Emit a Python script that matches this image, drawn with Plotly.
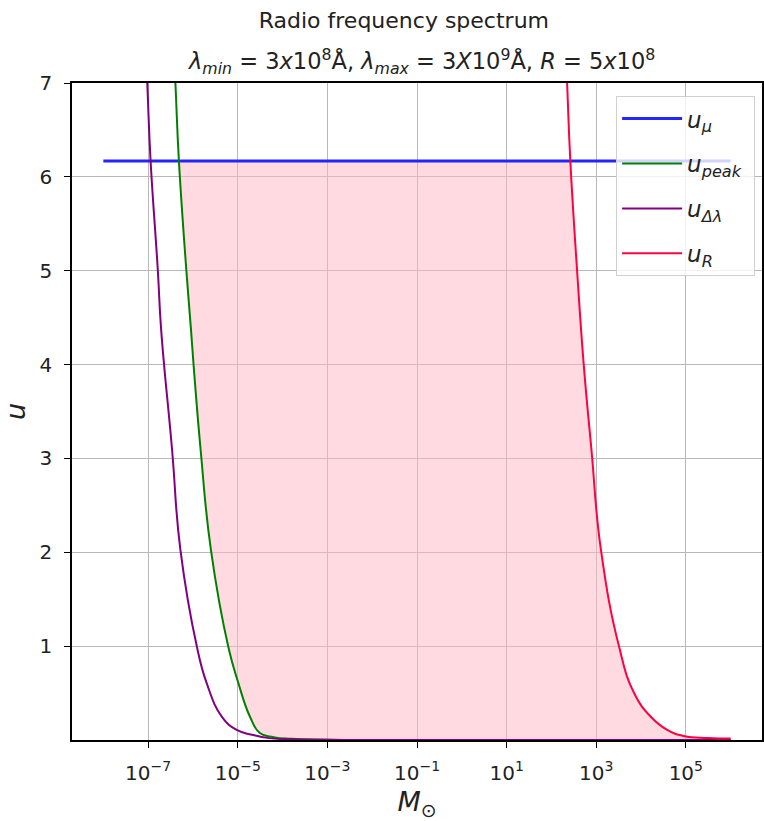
import plotly.graph_objects as go

# ---- data (log10 of solar mass, u) ----
u_mu_value = 6.17
mu_logm = [-8.0, 6.0]

peak_logm = [-6.47, -6.392, -6.315, -6.149, -6.044, -5.987, -5.829, -5.601, -5.211, -4.989, -4.730, -4.508, -4.20, -3.80, -3.00, -2.0, 0.0, 2.0, 4.0, 6.0]
peak_u    = [7.8, 7.0, 6.18, 5.01, 4.37, 4.0, 3.09, 2.03, 0.99, 0.61, 0.25, 0.075, 0.03, 0.012, 0.003, 0.001, 0.0, 0.0, 0.0, 0.0]

dl_logm = [-7.10, -7.020, -6.947, -6.785, -6.710, -6.466, -6.282, -5.911, -5.690, -5.357, -5.024, -4.656, -4.30, -3.80, -3.00, -2.0, 0.0, 2.0, 4.0, 6.0]
dl_u    = [7.9, 7.0, 6.18, 5.01, 4.37, 3.09, 2.03, 0.99, 0.60, 0.25, 0.107, 0.053, 0.02, 0.007, 0.002, 0.0005, 0.0, 0.0, 0.0, 0.0]

r_logm = [2.28, 2.350, 2.421, 2.572, 2.721, 2.894, 3.104, 3.512, 3.845, 4.213, 4.583, 4.953, 5.50, 6.0]
r_u    = [7.8, 7.0, 6.18, 5.01, 4.0, 3.09, 2.03, 0.99, 0.50, 0.25, 0.107, 0.043, 0.022, 0.015]

xtick_exp = [-7, -5, -3, -1, 1, 3, 5]
ytick_vals = [1, 2, 3, 4, 5, 6, 7]

title_line1 = "Radio frequency spectrum"
title_line2 = ("<i>λ<sub>min</sub></i> = 3<i>x</i>10<sup>8</sup>Å, "
               "<i>λ<sub>max</sub></i> = 3<i>X</i>10<sup>9</sup>Å, <i>R</i> = 5<i>x</i>10<sup>8</sup>")

FONT = "DejaVu Sans"
NB = "\u00a0"

def M(logs):
    return [10 ** v for v in logs]

fig = go.Figure()

# shaded allowed region: below min(u_mu, u_R), above u_peak
top_r = [(x, y) for x, y in zip(r_logm, r_u) if y <= u_mu_value + 0.02]
bot_g = [(x, y) for x, y in zip(peak_logm, peak_u) if y <= u_mu_value + 0.02][::-1]
poly = top_r + bot_g
fig.add_trace(go.Scatter(
    x=M([p[0] for p in poly]), y=[min(p[1], u_mu_value) for p in poly],
    fill="toself", fillcolor="rgba(255,182,193,0.5)", mode="lines",
    line=dict(width=0, shape="spline", smoothing=1.0), hoverinfo="skip", showlegend=False))

spl = dict(shape="spline", smoothing=1.3)
fig.add_trace(go.Scatter(
    x=M(mu_logm), y=[u_mu_value] * len(mu_logm), mode="lines",
    line=dict(color="#2424ff", width=3),
    name="<i>u<sub>μ</sub></i>" + NB, legendgroup="a"))
fig.add_trace(go.Scatter(
    x=M(peak_logm), y=peak_u, mode="lines",
    line=dict(color="#008000", width=2, **spl),
    name="<i>u<sub>peak</sub></i>" + NB, legendgroup="b"))
fig.add_trace(go.Scatter(
    x=M(dl_logm), y=dl_u, mode="lines",
    line=dict(color="#800080", width=2, **spl),
    name="<i>u<sub>Δλ</sub></i>" + NB, legendgroup="c"))
fig.add_trace(go.Scatter(
    x=M(r_logm), y=r_u, mode="lines",
    line=dict(color="#ff0040", width=2, **spl),
    name="<i>u<sub>R</sub></i>" + NB, legendgroup="d"))

fig.update_layout(
    width=764, height=821,
    margin=dict(l=72, r=0, t=83, b=81),
    paper_bgcolor="white", plot_bgcolor="white",
    font=dict(family=FONT, size=18, color="#222"),
    title=dict(
        text=title_line1,
        x=0.481, xanchor="center", xref="paper",
        y=1 - 20 / 821, yanchor="middle", yref="container",
        font=dict(family=FONT, size=22, color="#222")),
    legend=dict(
        x=0.99, y=0.98, xanchor="right", yanchor="top",
        bgcolor="rgba(255,255,255,0.8)", bordercolor="#d0d0d0", borderwidth=1,
        font=dict(family=FONT, size=23, color="#222"),
        tracegroupgap=12, itemwidth=60),
    showlegend=True,
)

fig.add_annotation(
    text=title_line2, x=0.507, xref="paper", xanchor="center",
    y=1 + (83 - 62) / 657, yref="paper", yanchor="middle",
    showarrow=False, font=dict(family=FONT, size=22.5, color="#222"))

fig.update_xaxes(
    type="log", range=[-8.7, 6.7],
    tickvals=[10 ** e for e in xtick_exp],
    ticktext=["10<sup>" + str(e).replace("-", "−") + "</sup>" for e in xtick_exp],
    ticks="outside", ticklen=6, tickcolor="black", tickwidth=1,
    showline=True, linecolor="black", linewidth=1.5, mirror=True,
    showgrid=True, gridcolor="#b8b8b8", gridwidth=1.2, zeroline=False,
    tickfont=dict(size=20), ticklabelstandoff=8,
    title=dict(text="<i>M</i><sub>⊙</sub>", font=dict(size=27), standoff=10),
)
fig.update_yaxes(
    range=[0, 7], tickvals=ytick_vals,
    ticks="outside", ticklen=6, tickcolor="black", tickwidth=1,
    showline=True, linecolor="black", linewidth=1.5, mirror=True,
    showgrid=True, gridcolor="#b8b8b8", gridwidth=1.2, zeroline=False,
    tickfont=dict(size=20), ticklabelstandoff=8,
    title=dict(text="<i>u</i>", font=dict(size=27), standoff=6),
)

fig.write_html("out.html")
